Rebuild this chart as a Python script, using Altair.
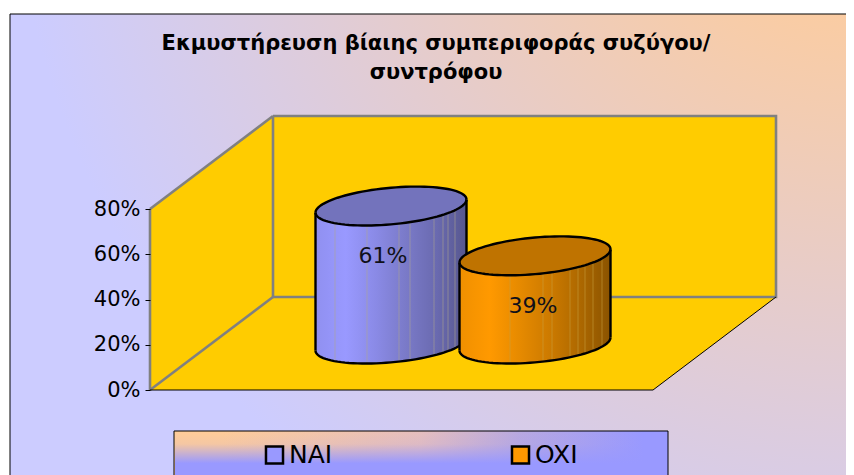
import math
import altair as alt
import pandas as pd

# ---- chart values -------------------------------------------------------
categories = ["NAI", "OXI"]
values = [61, 39]
labels = ["61%", "39%"]
tick_values = [0, 20, 40, 60, 80]
title_lines = ["Εκμυστήρευση βίαιης συμπεριφοράς συζύγου/", "συντρόφου"]
side_light = ["#9090F0", "#9999FF", "#8A8AE6", "#7A7AC8", "#6A6AB0", "#57578F"]
side_light_o = ["#F09000", "#FF9900", "#E68A00", "#CC7A00", "#AD6800", "#8A5300"]
top_colors = ["#7373BC", "#BF7300"]
legend_colors = ["#9999FF", "#FF9900"]
stripe_a = [335, 367, 399, 410, 434, 443, 448, 455]
stripe_b = [510, 543, 552, 570, 578, 585, 593, 602]
centers = [391, 535]
label_x = [383, 533]
label_offset = [-1.8, -1.8]

# ---- projection of the 3-D frame ---------------------------------------
PX_PER_PCT = 181 / 80
Y0 = 390
AXIS_X = 150
DX, DY = 123, 93
FLOOR_R = 653
BACK_R = 776
BASE_DEPTH = 20.3          # base centre, in value units, from depth
SEMI_A = 75.5
SEMI_B = 8.1
TILT = 2.9


def v(py):
    return (Y0 - py) / PX_PER_PCT


y_axis = alt.Axis(values=tick_values, labelExpr="datum.value + '%'",
                  title=None, domain=False, grid=False, offset=-142, zindex=1,
                  tickColor="#000000", tickSize=5, labelPadding=5,
                  labelFont="DejaVu Sans", labelFontSize=21, labelColor="#000000")

xs = alt.Scale(domain=[8, 846], range=[0, 838], nice=False, zero=False)
ys = alt.Scale(domain=[v(475), v(8)], nice=False, zero=False)
X = alt.X("x:Q", scale=xs, axis=None)
Y = alt.Y("y:Q", scale=ys, axis=y_axis, stack=None)
Y2 = alt.Y2("y2:Q")
X2 = alt.X2("x2:Q")


def stops(colors, offsets=None):
    n = len(colors) - 1
    offs = offsets if offsets else [i / n for i in range(n + 1)]
    return [alt.GradientStop(offset=o, color=c) for o, c in zip(offs, colors)]


def area(xv, yv, y2v, **kw):
    return alt.Chart(pd.DataFrame({"x": xv, "y": yv, "y2": y2v})).mark_area(**kw).encode(x=X, y=Y, y2=Y2)


def line(xv, yv, **kw):
    d = pd.DataFrame({"x": xv, "y": yv, "o": range(len(xv))})
    return alt.Chart(d).mark_line(**kw).encode(x=X, y=Y, order="o:Q")


def rect(x1, x2, y1, y2, **kw):
    d = pd.DataFrame({"x": [x1], "x2": [x2], "y": [y1], "y2": [y2]})
    return alt.Chart(d).mark_rect(**kw).encode(x=X, x2=X2, y=Y, y2=Y2)


layers = []

# chart area with corner gradient
layers.append(rect(10, 856, v(14), v(480),
                   fill=alt.RadialGradient(gradient="radial",
                                           stops=stops(["#FFCC99", "#FFCC99", "#CCCCFF"], [0, 0.14, 1]),
                                           x1=1, y1=0, r1=0, x2=1, y2=0, r2=1),
                   stroke="#000000", strokeWidth=1))

# legend box: horizontal blend with a vertical blend over it
layers.append(rect(174, 668, v(431), v(480),
                   fill=alt.LinearGradient(gradient="linear",
                                           stops=stops(["#FFCC99", "#FFCC99", "#E5BEBE", "#B8A8E0", "#9999FF"],
                                                       [0, 0.1, 0.5, 0.7, 0.95]),
                                           x1=0, y1=0, x2=1, y2=0),
                   stroke="#000000", strokeWidth=1))
layers.append(rect(175, 667, v(432), v(480),
                   fill=alt.LinearGradient(gradient="linear",
                                           stops=stops(["rgba(153,153,255,0)", "rgba(153,153,255,0.1)",
                                                        "rgba(153,153,255,1)"],
                                                       [0, 0.25, 0.65]),
                                           x1=0, y1=0, x2=0, y2=1)))

WALL = "#FFCC00"
GREY = "#808080"
top_v = 80
back_lift = DY / PX_PER_PCT

# walls and floor
layers.append(area([AXIS_X, AXIS_X + DX], [top_v, top_v + back_lift], [0, back_lift], fill=WALL))
layers.append(rect(AXIS_X + DX, BACK_R, top_v + back_lift, back_lift, fill=WALL))
layers.append(area([AXIS_X, AXIS_X + DX, FLOOR_R, BACK_R],
                   [0, back_lift, back_lift, back_lift],
                   [0, 0, 0, back_lift], fill=WALL))

# frame lines
g = dict(color=GREY, strokeWidth=2.6)
layers.append(line([AXIS_X, AXIS_X], [0, top_v], **g))
layers.append(line([AXIS_X, AXIS_X + DX], [top_v, top_v + back_lift], **g))
layers.append(line([AXIS_X, AXIS_X + DX], [0, back_lift], **g))
layers.append(line([AXIS_X + DX, AXIS_X + DX], [back_lift, top_v + back_lift], **g))
layers.append(line([AXIS_X + DX, BACK_R, BACK_R, AXIS_X + DX],
                   [top_v + back_lift, top_v + back_lift, back_lift, back_lift], **g))
layers.append(line([AXIS_X, FLOOR_R, BACK_R], [0, 0, back_lift], color="#000000", strokeWidth=1))


def curve(cx, level, upper, n=48):
    px, val = [], []
    for i in range(n + 1):
        t = math.pi - math.pi * i / n
        u = math.cos(t)
        s = math.sin(t)
        px.append(cx + SEMI_A * u)
        val.append(level + TILT * u + (SEMI_B * s if upper else -SEMI_B * s))
    return px, val


def lower_at(x, cx, level):
    u = max(-1, min(1, (x - cx) / SEMI_A))
    return level + TILT * u - SEMI_B * math.sqrt(1 - u * u)


ink = dict(color="#000000", strokeWidth=2.4)
grads = [side_light, side_light_o]
stripes = [stripe_a, stripe_b]
stripe_colors = ["#B0A890", "#C8A040"]
for i, val in enumerate(values):
    cx = centers[i]
    top = BASE_DEPTH + val
    ux, uy = curve(cx, top, True)
    lx, ly = curve(cx, top, False)
    _, by = curve(cx, BASE_DEPTH, False)
    layers.append(area(lx, ly, by,
                       fill=alt.LinearGradient(gradient="linear", stops=stops(grads[i]),
                                               x1=0, y1=0, x2=1, y2=0)))
    for sx in stripes[i]:
        d = pd.DataFrame({"x": [sx], "y": [lower_at(sx, cx, top)], "y2": [lower_at(sx, cx, BASE_DEPTH)]})
        layers.append(alt.Chart(d).mark_rule(color=stripe_colors[i], strokeWidth=1, opacity=0.55)
                      .encode(x=X, y=Y, y2=Y2))
    layers.append(area(ux, uy, ly, fill=top_colors[i]))
    layers.append(line(ux, uy, **ink))
    layers.append(line(lx, ly, **ink))
    layers.append(line(lx, by, **ink))
    layers.append(line([cx - SEMI_A, cx - SEMI_A], [top - TILT, BASE_DEPTH - TILT], **ink))
    layers.append(line([cx + SEMI_A, cx + SEMI_A], [top + TILT, BASE_DEPTH + TILT], **ink))

# data labels
lab = pd.DataFrame({"x": label_x, "y": [a + b for a, b in zip(values, label_offset)], "t": labels})
layers.append(alt.Chart(lab).mark_text(font="DejaVu Sans", fontSize=22, color="#10101A",
                                       align="center", baseline="middle")
              .encode(x=X, y=Y, text="t:N"))

# legend carrier (zero-sized marks, real legend)
carrier = pd.DataFrame({"x": centers, "y": values, "series": categories})
layers.append(alt.Chart(carrier).mark_square(size=0, filled=True, opacity=1).encode(
    x=X,
    y=Y,
    color=alt.Color("series:N", scale=alt.Scale(domain=categories, range=legend_colors),
                    legend=alt.Legend(title=None, orient="none", legendX=254, legendY=434,
                                      columns=2, columnPadding=173, symbolType="square",
                                      symbolSize=290, symbolStrokeColor="#000000",
                                      symbolStrokeWidth=2.5, symbolOpacity=1, labelOffset=2,
                                      labelFont="DejaVu Sans", labelFontSize=25,
                                      labelColor="#000000", zindex=1)),
))

chart = alt.layer(*layers).properties(
    width=838, height=467, padding=0,
    autosize=alt.AutoSizeParams(type="none"),
    background="#FFFFFF",
    title=alt.TitleParams(text=title_lines, font="DejaVu Sans", fontSize=21, fontWeight="bold",
                          color="#000000", anchor="middle", offset=0, dy=75, dx=9, lineHeight=29),
).configure_view(stroke=None)

chart.save("out.html", embed_options={"renderer": "svg", "actions": False})
